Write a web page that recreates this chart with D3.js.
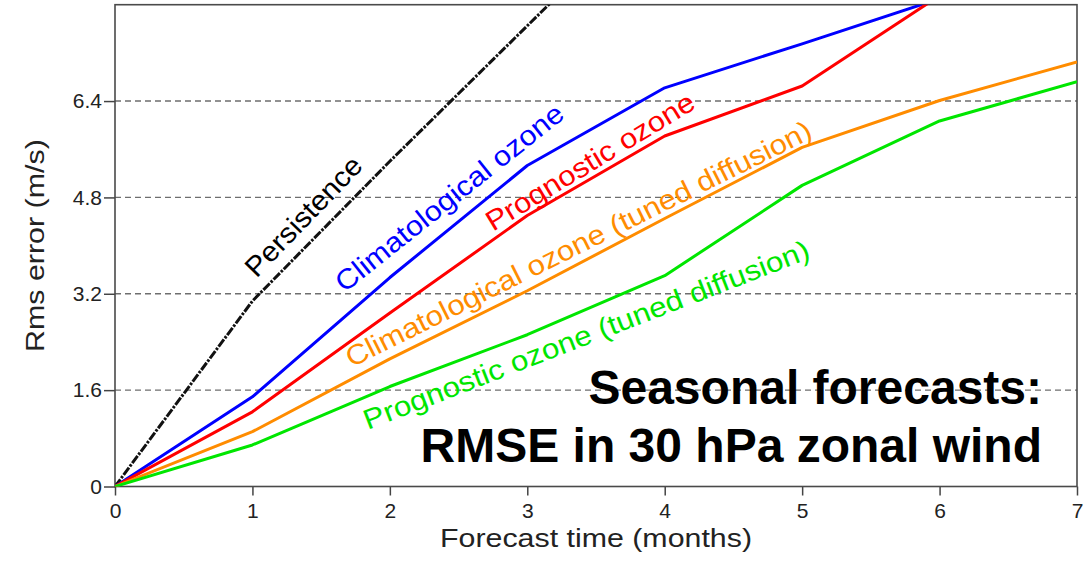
<!DOCTYPE html>
<html>
<head>
<meta charset="utf-8">
<script src="https://cdn.jsdelivr.net/npm/d3@7"></script>
<style>
  html, body { margin: 0; padding: 0; background: #fff; }
  svg { display: block; font-family: "Liberation Sans", Arial, sans-serif; }
</style>
</head>
<body>
<svg id="chart" width="1089" height="562"></svg>
<script>
// ---- data ----
const months = [0, 1, 2, 3, 4, 5, 6, 7];
const persistence = [0, 3.08, 5.4, 7.65, 9.9];
const climOzone = [0, 1.49, 3.47, 5.33, 6.62, 7.35, 8.1];
const progOzone = [0, 1.24, 2.88, 4.5, 5.82, 6.65, 8.15];
const climTuned = [0, 0.91, 2.12, 3.25, 4.45, 5.63, 6.41, 7.05];
const progTuned = [0, 0.69, 1.66, 2.52, 3.5, 5.0, 6.07, 6.72];
const yTicks = [0, 1.6, 3.2, 4.8, 6.4];
const xTicks = [0, 1, 2, 3, 4, 5, 6, 7];
const seriesNames = ["Persistence", "Climatological ozone", "Prognostic ozone",
  "Climatological ozone (tuned diffusion)", "Prognostic ozone (tuned diffusion)"];
const seriesColors = ["#111111", "#0000ff", "#ff0000", "#ff8c00", "#00e600"];
// label anchors in data space (month, m/s), rotation angle
const labelX = [1.03, 1.67, 2.75, 1.72, 1.84];
const labelY = [3.45, 3.21, 4.23, 1.97, 0.94];
const labelAngle = [-46, -38.5, -31.3, -26.5, -21.2];
const titleLines = ["Seasonal forecasts:", "RMSE in 30 hPa zonal wind"];

const series = [persistence, climOzone, progOzone, climTuned, progTuned];

// ---- layout ----
const svg = d3.select("#chart");
const pLeft = 115, pRight = 1077, pTop = 4.7, pBottom = 486.5;
const x = d3.scaleLinear().domain([0, 7]).range([pLeft, pRight]);
const y = d3.scaleLinear().domain([0, 8]).range([pBottom, pTop]);

svg.append("defs").append("clipPath").attr("id", "plotclip")
  .append("rect").attr("x", pLeft).attr("y", pTop)
  .attr("width", pRight - pLeft).attr("height", pBottom - pTop);

// gridlines
svg.append("g").selectAll("line").data(yTicks.filter(d => d > 0)).join("line")
  .attr("x1", pLeft).attr("x2", pRight)
  .attr("y1", d => y(d)).attr("y2", d => y(d))
  .attr("stroke", "#6e6e6e").attr("stroke-width", 1.4)
  .attr("stroke-dasharray", "6,4");

// axes
const yAxis = d3.axisLeft(y).tickValues(yTicks).tickSize(11).tickPadding(2)
  .tickFormat(d => d === 0 ? "0" : d3.format(".1f")(d));
const gy = svg.append("g").attr("transform", `translate(${pLeft},0)`).call(yAxis);
const xAxis = d3.axisBottom(x).tickValues(xTicks).tickSize(9).tickPadding(8)
  .tickFormat(d3.format("d"));
const gx = svg.append("g").attr("transform", `translate(0,${pBottom})`).call(xAxis);
[gx, gy].forEach(g => {
  g.select(".domain").remove();
  g.selectAll(".tick line").attr("stroke", "#444").attr("stroke-width", 1.5);
  g.selectAll(".tick text").attr("fill", "#222").style("font-size", "21px")
    .style("font-family", "'Liberation Sans', Arial, sans-serif");
});

// frame
svg.append("rect").attr("x", pLeft).attr("y", pTop)
  .attr("width", pRight - pLeft).attr("height", pBottom - pTop)
  .attr("fill", "none").attr("stroke", "#4a4a4a").attr("stroke-width", 1.6);

// lines
const line = d3.line().x((d, i) => x(months[i])).y(d => y(d));
const gl = svg.append("g").attr("clip-path", "url(#plotclip)");
series.forEach((s, i) => {
  gl.append("path").datum(s).attr("d", line)
    .attr("fill", "none")
    .attr("stroke", seriesColors[i])
    .attr("stroke-width", i === 0 ? 3 : 3)
    .attr("stroke-linejoin", "round")
    .attr("stroke-dasharray", i === 0 ? "9,1.5,2.5,1.5" : null);
});

// inline labels
const labelLen = [155, 283, 239, 517, 476];
seriesNames.forEach((name, i) => {
  svg.append("text")
    .attr("transform", `translate(${x(labelX[i])},${y(labelY[i])}) rotate(${labelAngle[i]})`)
    .attr("fill", seriesColors[i] === "#111111" ? "#000" : seriesColors[i])
    .attr("textLength", labelLen[i]).attr("lengthAdjust", "spacingAndGlyphs")
    .style("font-size", "28px")
    .text(name);
});

// axis titles
svg.append("text")
  .attr("x", (pLeft + pRight) / 2).attr("y", 547)
  .attr("text-anchor", "middle").attr("fill", "#222")
  .attr("textLength", 312).attr("lengthAdjust", "spacingAndGlyphs")
  .style("font-size", "26px").text("Forecast time (months)");
svg.append("text")
  .attr("transform", `translate(44,${(pTop + pBottom) / 2}) rotate(-90)`)
  .attr("text-anchor", "middle").attr("fill", "#222")
  .attr("textLength", 213).attr("lengthAdjust", "spacingAndGlyphs")
  .style("font-size", "26px").text("Rms error (m/s)");

// big title
svg.append("g").selectAll("text").data(titleLines).join("text")
  .attr("x", 1042).attr("y", (d, i) => 404 + i * 58)
  .attr("text-anchor", "end").attr("fill", "#000")
  .style("font-size", "48px").style("font-weight", "bold")
  .text(d => d);
</script>
</body>
</html>
